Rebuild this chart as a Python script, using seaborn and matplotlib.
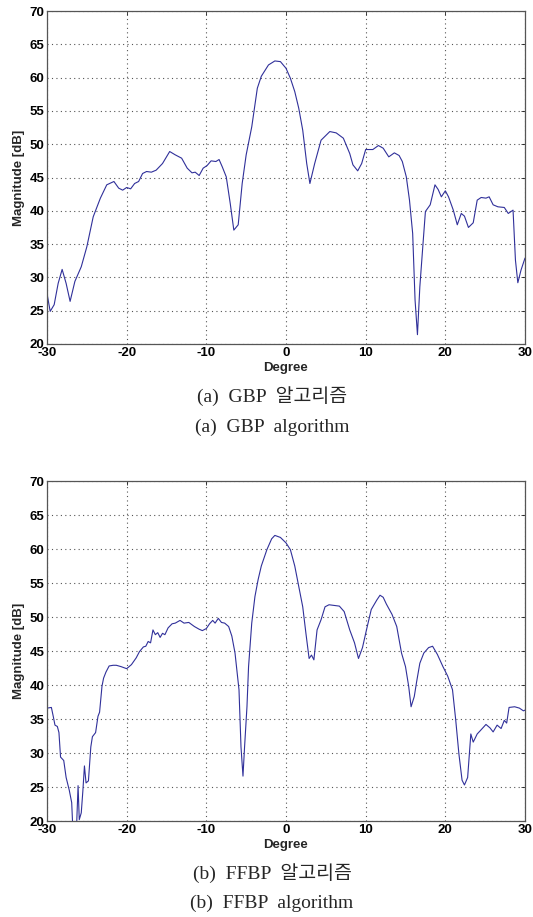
import numpy as np
import pandas as pd
import matplotlib
matplotlib.use("Agg")
import matplotlib.pyplot as plt
import seaborn as sns

# GBP algorithm response (degree, magnitude dB)
gbp_deg = [-30.0, -29.6, -29.1, -28.6, -28.1, -27.6, -27.1, -26.5, -25.7, -25.0,
           -24.2, -23.3, -22.5, -21.6, -21.0, -20.5, -20.0, -19.5, -19.0, -18.5,
           -18.0, -17.5, -16.9, -16.3, -15.5, -14.6, -13.9, -13.1, -12.4, -11.8,
           -11.4, -10.9, -10.4, -9.9, -9.4, -8.8, -8.4, -8.0, -7.5, -7.0,
           -6.55, -6.0, -5.5, -5.0, -4.3, -3.6, -3.1, -2.2, -1.4, -0.7,
           0.0, 0.55, 1.1, 1.6, 2.1, 2.6, 3.0, 3.6, 4.4, 5.5,
           6.3, 7.2, 8.0, 8.4, 9.0, 9.5, 10.0, 10.9, 11.6, 12.2,
           12.9, 13.6, 14.2, 14.6, 15.1, 15.5, 15.9, 16.2, 16.5, 16.8,
           17.2, 17.5, 18.1, 18.7, 19.1, 19.5, 20.0, 20.4, 21.0, 21.5,
           22.0, 22.4, 22.9, 23.5, 24.0, 24.5, 25.1, 25.5, 26.0, 26.6,
           27.4, 27.9, 28.5, 28.8, 29.1, 29.5, 30.0]
gbp_mag = [27.6, 24.9, 25.9, 29.1, 31.2, 29.1, 26.4, 29.4, 31.6, 34.6,
           39.1, 41.9, 43.9, 44.4, 43.4, 43.1, 43.5, 43.3, 44.1, 44.4,
           45.6, 45.9, 45.8, 46.1, 47.1, 48.9, 48.4, 47.9, 46.4, 45.7,
           45.8, 45.3, 46.4, 46.8, 47.5, 47.4, 47.7, 46.6, 45.1, 41.1,
           37.1, 37.9, 44.1, 48.4, 52.6, 58.4, 60.2, 61.9, 62.5, 62.4,
           61.4, 59.9, 57.9, 55.4, 52.1, 47.1, 44.1, 47.1, 50.6, 51.9,
           51.7, 50.9, 48.6, 46.9, 46.0, 47.1, 49.2, 49.2, 49.8, 49.4,
           48.1, 48.7, 48.3, 47.4, 45.1, 41.6, 36.6, 26.6, 21.4, 28.6,
           35.1, 39.9, 40.9, 43.9, 43.2, 42.1, 43.0, 42.1, 40.1, 37.9,
           39.6, 39.2, 37.5, 38.2, 41.6, 42.0, 41.9, 42.1, 40.9, 40.6,
           40.5, 39.6, 40.1, 32.6, 29.2, 31.1, 32.9]

# FFBP algorithm response
ffbp_deg = [-30.0, -29.45, -29.2, -29.0, -28.7, -28.5, -28.3, -27.9, -27.6, -27.2,
            -26.9, -26.8, -26.6, -26.3, -26.1, -25.95, -25.7, -25.5, -25.3, -25.1,
            -24.8, -24.5, -24.3, -23.9, -23.6, -23.4, -23.1, -22.9, -22.6, -22.2,
            -21.7, -21.3, -20.7, -20.0, -19.4, -18.8, -18.4, -17.9, -17.6, -17.3,
            -17.0, -16.7, -16.4, -16.1, -15.8, -15.5, -15.2, -14.8, -14.3, -13.9,
            -13.3, -12.8, -12.2, -11.5, -10.9, -10.5, -10.0, -9.6, -9.2, -8.9,
            -8.5, -8.1, -7.7, -7.2, -6.8, -6.4, -5.9, -5.65, -5.4, -5.2,
            -4.9, -4.7, -4.3, -3.9, -3.5, -3.1, -2.4, -1.8, -1.4, -0.7,
            0.0, 0.55, 1.1, 1.6, 2.1, 2.5, 2.9, 3.2, 3.5, 3.9,
            4.4, 4.9, 5.4, 6.1, 6.7, 7.3, 8.0, 8.6, 9.1, 9.6,
            10.1, 10.7, 11.4, 11.8, 12.2, 12.6, 13.3, 13.9, 14.5, 15.0,
            15.4, 15.7, 16.1, 16.4, 16.8, 17.3, 17.9, 18.4, 19.0, 19.7,
            20.3, 20.9, 21.3, 21.7, 22.1, 22.4, 22.8, 23.2, 23.5, 24.0,
            24.4, 25.1, 25.6, 26.0, 26.5, 27.0, 27.4, 27.7, 28.0, 28.7,
            29.3, 29.8, 30.0]
ffbp_mag = [36.6, 36.7, 35.3, 34.1, 33.9, 33.0, 29.4, 28.9, 26.4, 24.5,
            22.7, 20.0, 18.5, 18.8, 25.2, 20.2, 21.2, 24.4, 28.1, 25.6,
            25.9, 30.9, 32.4, 33.0, 35.4, 36.0, 39.8, 41.0, 41.9, 42.8,
            42.9, 42.9, 42.7, 42.4, 43.0, 44.0, 44.9, 45.6, 45.7, 46.4,
            46.2, 48.1, 47.4, 47.7, 47.0, 47.6, 47.4, 48.4, 49.0, 49.1,
            49.5, 49.1, 49.2, 48.6, 48.2, 48.0, 48.3, 49.0, 49.5, 49.1,
            49.8, 49.2, 49.1, 48.6, 47.2, 44.7, 39.3, 30.9, 26.6, 30.9,
            36.8, 42.7, 49.1, 53.0, 55.5, 57.5, 59.9, 61.5, 62.0, 61.7,
            60.9, 59.9, 57.5, 54.5, 51.5, 47.6, 43.9, 44.4, 43.7, 48.1,
            49.6, 51.5, 51.8, 51.7, 51.6, 50.8, 48.1, 46.2, 43.9, 45.5,
            48.1, 51.1, 52.5, 53.2, 52.9, 51.9, 50.4, 48.6, 44.7, 42.7,
            39.8, 36.8, 38.3, 40.5, 43.2, 44.7, 45.5, 45.7, 44.5, 42.7,
            41.3, 39.3, 34.9, 29.9, 26.0, 25.3, 26.4, 32.8, 31.6, 32.8,
            33.3, 34.2, 33.7, 33.1, 34.1, 33.6, 34.8, 34.4, 36.7, 36.8,
            36.6, 36.2, 36.3]

x_ticks = [-30, -20, -10, 0, 10, 20, 30]
y_ticks = [20, 25, 30, 35, 40, 45, 50, 55, 60, 65, 70]
captions_a = ["(a)  GBP  알고리즘", "(a)  GBP  algorithm"]
captions_b = ["(b)  FFBP  알고리즘", "(b)  FFBP  algorithm"]

sns.set_style("white")
plt.rcParams['font.family'] = ['Liberation Sans', 'DejaVu Sans']
plt.rcParams['axes.unicode_minus'] = False

fig = plt.figure(figsize=(5.33, 9.17), dpi=100)
W, H = 533, 917

def panel(top, bottom, deg, mag):
    ax = fig.add_axes([47 / W, 1 - bottom / H, (525 - 47) / W, (bottom - top) / H])
    df = pd.DataFrame({"Degree": deg, "Magnitude": mag})
    sns.lineplot(data=df, x="Degree", y="Magnitude", ax=ax, color="#30309a",
                 linewidth=0.8, sort=False)
    ax.set_xlim(-30, 30)
    ax.set_ylim(20, 70)
    ax.set_xticks(x_ticks)
    ax.set_yticks(y_ticks)
    ax.grid(True, linestyle=(0, (1, 3)), color="#555555", linewidth=0.8)
    ax.tick_params(direction="in", length=3, width=0.6, top=True, right=True,
                   labelsize=9.5, pad=2, colors="#222222")
    for lab in ax.get_xticklabels() + ax.get_yticklabels():
        lab.set_fontweight("bold")
        lab.set_color("black")
    for s in ax.spines.values():
        s.set_color("#555555")
        s.set_linewidth(0.9)
    ax.set_xlabel("Degree", fontsize=9.5, fontweight="bold", labelpad=2)
    ax.set_ylabel("Magnitude [dB]", fontsize=9.5, fontweight="bold", labelpad=3)
    return ax

panel(11, 344, gbp_deg, gbp_mag)
panel(481, 821, ffbp_deg, ffbp_mag)

cap_font = ['Liberation Serif', 'Noto Sans CJK KR']
for y, txt in zip([396, 427], captions_a):
    fig.text(272 / W, 1 - y / H, txt, ha="center", va="center", fontsize=14,
             family=cap_font)
for y, txt in zip([873, 903], captions_b):
    fig.text(272 / W, 1 - y / H, txt, ha="center", va="center", fontsize=14,
             family=cap_font)

fig.savefig("out.png", dpi=100)
